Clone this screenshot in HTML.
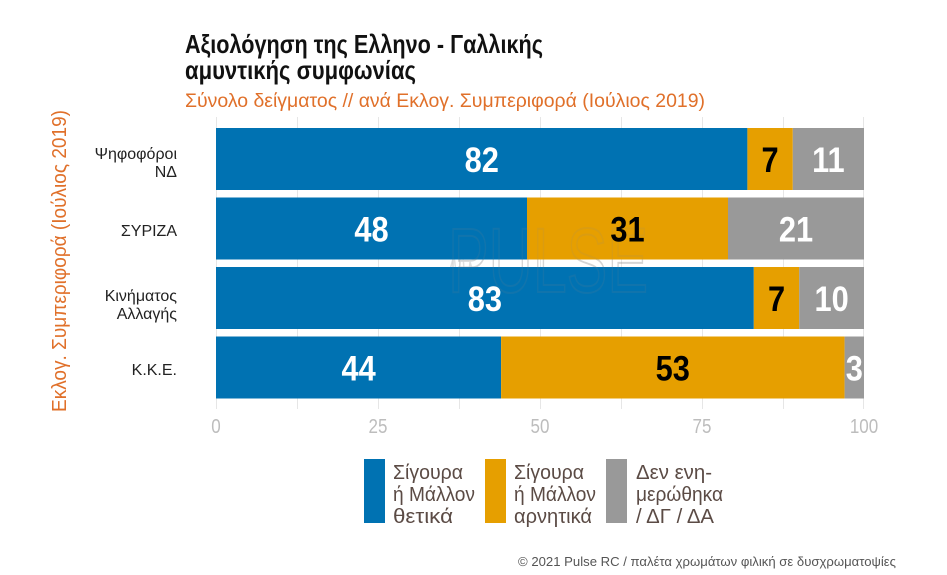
<!DOCTYPE html>
<html><head><meta charset="utf-8"><style>
html,body{margin:0;padding:0;background:#fff;}
svg{display:block;}
text{font-family:"Liberation Sans","Noto Sans CJK SC",sans-serif;}
</style></head><body>
<svg width="947" height="575" viewBox="0 0 947 575" xmlns="http://www.w3.org/2000/svg">
<rect width="947" height="575" fill="#fff"/>
<!-- title -->
<text x="185" y="53" font-size="26" font-weight="bold" fill="#111" textLength="358" lengthAdjust="spacingAndGlyphs">Αξιολόγηση της Ελληνο - Γαλλικής</text>
<text x="185" y="79" font-size="26" font-weight="bold" fill="#111" textLength="231" lengthAdjust="spacingAndGlyphs">αμυντικής συμφωνίας</text>
<text x="185" y="107" font-size="19" fill="#e0702a" textLength="520" lengthAdjust="spacingAndGlyphs">Σύνολο δείγματος // ανά Εκλογ. Συμπεριφορά (Ιούλιος 2019)</text>
<!-- y axis title -->
<text transform="translate(66,261) rotate(-90)" text-anchor="middle" font-size="20" fill="#e0702a" textLength="302" lengthAdjust="spacingAndGlyphs">Εκλογ. Συμπεριφορά (Ιούλιος 2019)</text>
<!-- gridlines -->
<g stroke="#e6e6e6" stroke-width="1">
<line x1="216.5" y1="117" x2="216.5" y2="409"/>
<line x1="297.5" y1="117" x2="297.5" y2="409"/>
<line x1="378.5" y1="117" x2="378.5" y2="409"/>
<line x1="459.5" y1="117" x2="459.5" y2="409"/>
<line x1="540.5" y1="117" x2="540.5" y2="409"/>
<line x1="621.5" y1="117" x2="621.5" y2="409"/>
<line x1="702.5" y1="117" x2="702.5" y2="409"/>
<line x1="783.5" y1="117" x2="783.5" y2="409"/>
<line x1="863.5" y1="117" x2="863.5" y2="409"/>
</g>
<!-- watermark -->
<g opacity="0.22">
<text x="448" y="292" font-size="92" fill="none" stroke="#777" stroke-width="2" textLength="200" lengthAdjust="spacingAndGlyphs">PULSE</text>
<text x="596" y="283" font-size="9" font-weight="bold" fill="#777">KOSMON</text>
<text x="470" y="296" font-size="10" fill="#777" textLength="178" lengthAdjust="spacingAndGlyphs">RESEARCH | CONSULTING</text>
<polyline points="440,270 450,270 454,255 458,290 462,240 466,300 470,262 474,275 478,270 595,270" fill="none" stroke="#777" stroke-width="1.5"/>
</g>
<!-- bars -->
<g>
<rect x="216" y="128" width="531.4" height="62" fill="#0072B2"/>
<rect x="747.4" y="128" width="45.4" height="62" fill="#E69F00"/>
<rect x="792.8" y="128" width="71.2" height="62" fill="#999999"/>

<rect x="216" y="197.5" width="311" height="62" fill="#0072B2"/>
<rect x="527" y="197.5" width="201" height="62" fill="#E69F00"/>
<rect x="728" y="197.5" width="136" height="62" fill="#999999"/>

<rect x="216" y="267" width="537.8" height="62" fill="#0072B2"/>
<rect x="753.8" y="267" width="45.4" height="62" fill="#E69F00"/>
<rect x="799.2" y="267" width="64.8" height="62" fill="#999999"/>

<rect x="216" y="336.5" width="285.1" height="62" fill="#0072B2"/>
<rect x="501.1" y="336.5" width="343.5" height="62" fill="#E69F00"/>
<rect x="844.6" y="336.5" width="19.4" height="62" fill="#999999"/>
</g>
<!-- watermark overlay on bars -->
<g opacity="0.12">
<text x="448" y="292" font-size="92" fill="none" stroke="#888" stroke-width="2" textLength="200" lengthAdjust="spacingAndGlyphs">PULSE</text>
</g>
<!-- value labels -->
<g font-size="35" font-weight="bold" text-anchor="middle">
<text transform="translate(481.7,172) scale(0.88,1)" fill="#fff">82</text>
<text transform="translate(770,172) scale(0.88,1)" fill="#000">7</text>
<text transform="translate(828.4,172) scale(0.88,1)" fill="#fff">11</text>

<text transform="translate(371.5,241.5) scale(0.88,1)" fill="#fff">48</text>
<text transform="translate(627.5,241.5) scale(0.88,1)" fill="#000">31</text>
<text transform="translate(796,241.5) scale(0.88,1)" fill="#fff">21</text>

<text transform="translate(484.9,311) scale(0.88,1)" fill="#fff">83</text>
<text transform="translate(776.5,311) scale(0.88,1)" fill="#000">7</text>
<text transform="translate(831.6,311) scale(0.88,1)" fill="#fff">10</text>

<text transform="translate(358.6,380.5) scale(0.88,1)" fill="#fff">44</text>
<text transform="translate(672.8,380.5) scale(0.88,1)" fill="#000">53</text>
<text transform="translate(854.3,380.5) scale(0.88,1)" fill="#fff">3</text>
</g>
<!-- category labels -->
<g font-size="16" fill="#222" text-anchor="end">
<text x="177" y="159">Ψηφοφόροι</text>
<text x="177" y="177">ΝΔ</text>
<text x="177" y="236">ΣΥΡΙΖΑ</text>
<text x="177" y="301">Κινήματος</text>
<text x="177" y="319">Αλλαγής</text>
<text x="177" y="375">Κ.Κ.Ε.</text>
</g>
<!-- tick labels -->
<g font-size="20" fill="#bdbdbd" text-anchor="middle">
<text transform="translate(216,433) scale(0.85,1)">0</text>
<text transform="translate(378,433) scale(0.85,1)">25</text>
<text transform="translate(540,433) scale(0.85,1)">50</text>
<text transform="translate(702,433) scale(0.85,1)">75</text>
<text transform="translate(864,433) scale(0.85,1)">100</text>
</g>
<!-- legend -->
<rect x="364" y="459" width="21" height="64" fill="#0072B2"/>
<rect x="485" y="459" width="21" height="64" fill="#E69F00"/>
<rect x="606" y="459" width="21" height="64" fill="#999999"/>
<g font-size="20" fill="#5b4b45">
<text x="393" y="479" textLength="70" lengthAdjust="spacingAndGlyphs">Σίγουρα</text>
<text x="393" y="501" textLength="82" lengthAdjust="spacingAndGlyphs">ή Μάλλον</text>
<text x="393" y="523" textLength="60" lengthAdjust="spacingAndGlyphs">θετικά</text>
<text x="514" y="479" textLength="70" lengthAdjust="spacingAndGlyphs">Σίγουρα</text>
<text x="514" y="501" textLength="82" lengthAdjust="spacingAndGlyphs">ή Μάλλον</text>
<text x="514" y="523" textLength="78" lengthAdjust="spacingAndGlyphs">αρνητικά</text>
<text x="636" y="479" textLength="76" lengthAdjust="spacingAndGlyphs">Δεν ενη-</text>
<text x="636" y="501" textLength="87" lengthAdjust="spacingAndGlyphs">μερώθηκα</text>
<text x="636" y="523" textLength="78" lengthAdjust="spacingAndGlyphs">/ ΔΓ / ΔΑ</text>
</g>
<!-- footer -->
<text x="896" y="566" font-size="13" fill="#555" text-anchor="end" textLength="378" lengthAdjust="spacingAndGlyphs">© 2021 Pulse RC  /  παλέτα χρωμάτων φιλική σε δυσχρωματοψίες</text>
</svg>
</body></html>
